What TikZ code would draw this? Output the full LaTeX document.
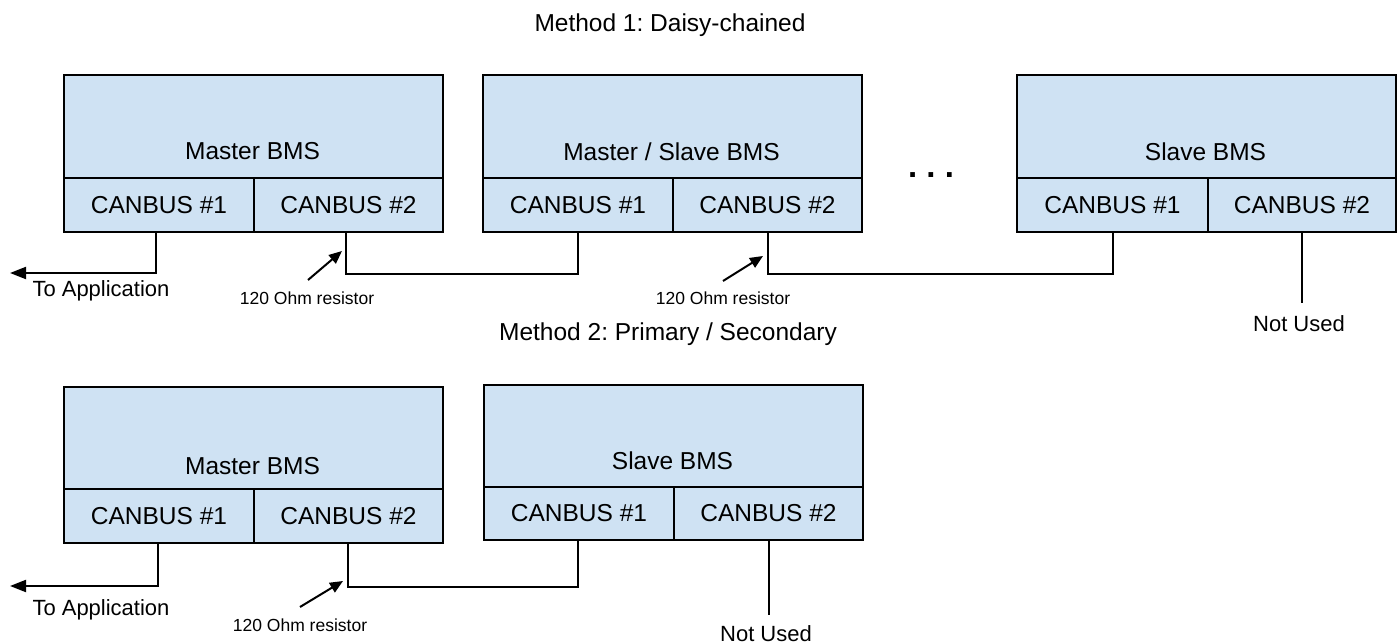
\documentclass[tikz,border=0pt]{standalone}
\usepackage{fontspec}
\setmainfont{Liberation Sans}
\usetikzlibrary{arrows.meta}
\frenchspacing
\definecolor{boxblue}{HTML}{CFE2F3}
\tikzset{
  bx/.style={draw=black, line width=2pt, fill=boxblue, inner sep=0pt, anchor=north west,
    font=\fontsize{24.5pt}{28pt}\selectfont},
  upbox/.style={bx, minimum width=379pt, minimum height=103pt},
  lobox/.style={bx, minimum height=54pt},
  boxtxt/.style={anchor=base, inner sep=0pt, font=\fontsize{24.5pt}{28pt}\selectfont},
  title/.style={anchor=base, inner sep=0pt, font=\fontsize{24.5pt}{28pt}\selectfont},
  note/.style={anchor=base, inner sep=0pt, font=\fontsize{22pt}{26pt}\selectfont},
  small/.style={anchor=base, inner sep=0pt, font=\fontsize{17.5pt}{21pt}\selectfont},
  wire/.style={draw=black, line width=2pt},
  outarrow/.style={wire, -{Triangle[length=16pt,width=12pt]}},
  resarrow/.style={wire, -{Triangle[length=13pt,width=11pt]}},
}
\begin{document}
\begin{tikzpicture}[x=1pt,y=-1pt]
\fill[white] (0,0) rectangle (1398,644);
\useasboundingbox (0,0) rectangle (1398,644);

% ---------- Method 1 ----------
\node[title] (t1) at (670,32) {Method 1: Daisy-chained};

% Master BMS
\node[upbox] (A) at (63,74) {};
\node[boxtxt] (Atxt) at (252.5,160) {Master BMS};
\node[lobox, minimum width=190pt] (A1) at (63,177) {CANBUS \#1};
\node[lobox, minimum width=189pt] (A2) at (253,177) {CANBUS \#2};

% Master / Slave BMS
\node[upbox] (B) at (482,74) {};
\node[boxtxt] (Btxt) at (671.5,161) {Master / Slave BMS};
\node[lobox, minimum width=190pt] (B1) at (482,177) {CANBUS \#1};
\node[lobox, minimum width=189pt] (B2) at (672,177) {CANBUS \#2};

% dots
\node[anchor=base, inner sep=0pt, font=\bfseries\fontsize{33pt}{36pt}\selectfont] (dots) at (931,178) {. . .};

% Slave BMS
\node[upbox] (C) at (1016,74) {};
\node[boxtxt] (Ctxt) at (1205.5,161) {Slave BMS};
\node[lobox, minimum width=191pt] (C1) at (1016,177) {CANBUS \#1};
\node[lobox, minimum width=188pt] (C2) at (1207,177) {CANBUS \#2};

% connectors
\coordinate (app1) at (10,273);
\draw[outarrow] ([xshift=-3pt]A1.south) |- (app1);
\node[note] (app1txt) at (101,297) {To Application};

\draw[wire] ([xshift=-2.5pt]A2.south) -- ++(0,41) -| (B1.south);
\draw[wire] (B2.south) -- ++(0,41) -| (C1.south);

\node[small] (r1) at (307,305) {120 Ohm resistor};
\coordinate (r1s) at (308,280);
\coordinate (r1e) at (342,251);
\draw[resarrow] (r1s) -- (r1e);

\node[small] (r2) at (723,305) {120 Ohm resistor};
\coordinate (r2s) at (723,281);
\coordinate (r2e) at (763,256);
\draw[resarrow] (r2s) -- (r2e);

\node[note] (nu1) at (1299,332) {Not Used};
\coordinate (nu1e) at (1300,303);
\draw[wire] (C2.south) -- (C2.south |- nu1e);

% ---------- Method 2 ----------
\node[title] (t2) at (668,341) {Method 2: Primary / Secondary};

% Master BMS
\node[upbox, minimum height=102pt] (D) at (63,386) {};
\node[boxtxt] (Dtxt) at (252.5,474) {Master BMS};
\node[lobox, minimum width=190pt] (D1) at (63,488) {CANBUS \#1};
\node[lobox, minimum width=189pt] (D2) at (253,488) {CANBUS \#2};

% Slave BMS
\node[upbox, minimum height=102pt] (E) at (483,384) {};
\node[boxtxt] (Etxt) at (672.5,469) {Slave BMS};
\node[lobox, minimum width=190pt, minimum height=53pt] (E1) at (483,486) {CANBUS \#1};
\node[lobox, minimum width=189pt, minimum height=53pt] (E2) at (673,486) {CANBUS \#2};

% connectors
\coordinate (app2) at (10,586);
\draw[outarrow] ([xshift=-1pt]D1.south) |- (app2);
\node[note] (app2txt) at (101,615) {To Application};

\draw[wire] ([xshift=-0.5pt]D2.south) -- ++(0,43) -| ([xshift=-1pt]E1.south);

\node[small] (r3) at (300,631) {120 Ohm resistor};
\coordinate (r3s) at (300,607);
\coordinate (r3e) at (343,581);
\draw[resarrow] (r3s) -- (r3e);

\node[note] (nu2) at (766,641) {Not Used};
\coordinate (nu2e) at (766,615);
\draw[wire] (E2.south) -- (E2.south |- nu2e);
\end{tikzpicture}
\end{document}
